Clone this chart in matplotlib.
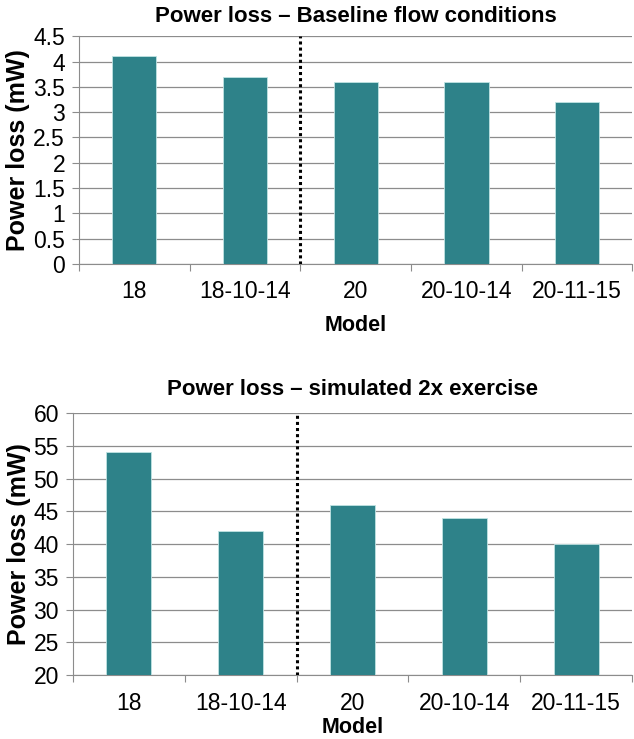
import matplotlib
matplotlib.use("Agg")
import matplotlib.pyplot as plt
import numpy as np

models = ["18", "18-10-14", "20", "20-10-14", "20-11-15"]
baseline = [4.1, 3.7, 3.6, 3.6, 3.2]
exercise = [54, 42, 46, 44, 40]
top_ticks = [0, 0.5, 1, 1.5, 2, 2.5, 3, 3.5, 4, 4.5]
top_ticklabels = ["0", "0.5", "1", "1.5", "2", "2.5", "3", "3.5", "4", "4.5"]
bot_ticks = [20, 25, 30, 35, 40, 45, 50, 55, 60]

plt.rcParams['font.family'] = ['Liberation Sans', 'DejaVu Sans']
BAR = "#2E8289"
GRID = "#8C8C8C"

fig = plt.figure(figsize=(6.34, 7.39), dpi=100)
ax1 = fig.add_axes([0.1246, 0.643, 0.873, 0.308])
ax2 = fig.add_axes([0.115, 0.0866, 0.882, 0.3545])

def style(ax, vals, ylim, ticks, ticklabels, title, tpad, xlpad):
    x = np.arange(len(models))
    ax.bar(x, [v - ylim[0] for v in vals], bottom=ylim[0], width=0.4, color=BAR,
           edgecolor="#BFE3E3", linewidth=0.6, zorder=3)
    ax.set_xlim(-0.5, len(models) - 0.5)
    ax.set_ylim(*ylim)
    ax.set_yticks(ticks)
    ax.set_yticklabels(ticklabels, fontsize=16.5)
    ax.set_xticks(x)
    ax.set_xticklabels(models, fontsize=16.5)
    ax.set_xticks(np.arange(-0.5, len(models)), minor=True)
    ax.tick_params(axis='x', which='major', length=0, pad=12)
    ax.tick_params(axis='x', which='minor', length=5, color=GRID, width=0.8)
    ax.tick_params(axis='y', length=5, color=GRID, width=0.8, pad=5)
    ax.yaxis.grid(True, color=GRID, linewidth=0.9, zorder=0)
    ax.set_axisbelow(True)
    for s in ["top", "right"]:
        ax.spines[s].set_visible(False)
    ax.spines["left"].set_color(GRID)
    ax.spines["left"].set_linewidth(0.8)
    ax.spines["bottom"].set_color(GRID)
    ax.spines["bottom"].set_linewidth(0.8)
    ax.axvline(1.5, color="black", linestyle=(0, (1, 1)), linewidth=2.2, zorder=4)
    ax.set_title(title, fontsize=16, fontweight="bold", pad=tpad)
    ax.set_ylabel("Power loss (mW)", fontsize=18, fontweight="bold", labelpad=2)
    ax.set_xlabel("Model", fontsize=15.5, fontweight="bold", labelpad=xlpad)

style(ax1, baseline, (0, 4.5), top_ticks, top_ticklabels,
      "Power loss \u2013 Baseline flow conditions", 10, 8)
style(ax2, exercise, (20, 60), bot_ticks, [str(t) for t in bot_ticks],
      "Power loss \u2013 simulated 2x exercise", 13, 2)

fig.savefig("out.png", dpi=100)
